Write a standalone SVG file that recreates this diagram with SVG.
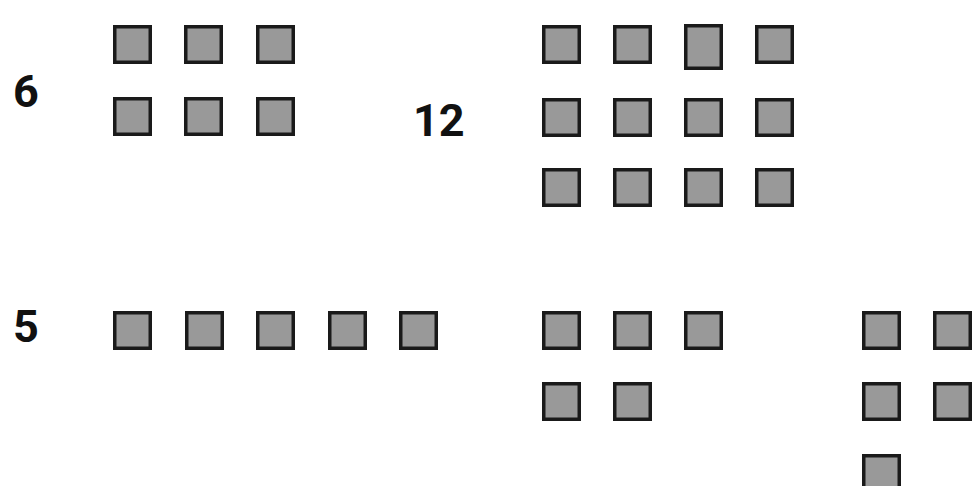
<svg xmlns="http://www.w3.org/2000/svg" width="973" height="486" viewBox="0 0 973 486">
<style>
.sq{fill:#999999;stroke:#1a1a1a;stroke-width:3.5}
.lbl{font-family:Roboto,"Liberation Sans",sans-serif;font-weight:bold;font-size:45px;fill:#111111}
</style>
<defs><rect id="s" class="sq" width="35.5" height="35.5"/></defs>
<rect width="973" height="486" fill="#ffffff"/>
<g id="group-6">
<text class="lbl" x="13" y="107">6</text>
<use href="#s" x="114.75" y="26.75"/><use href="#s" x="185.75" y="26.75"/><use href="#s" x="257.75" y="26.75"/>
<use href="#s" x="114.75" y="98.75"/><use href="#s" x="185.75" y="98.75"/><use href="#s" x="257.75" y="98.75"/>
</g>
<g id="group-12">
<text class="lbl" x="413" y="136">12</text>
<use href="#s" x="543.75" y="26.75"/><use href="#s" x="614.75" y="26.75"/><rect class="sq" x="685.75" y="25.75" width="35.5" height="42.5"/><use href="#s" x="756.75" y="26.75"/>
<use href="#s" x="543.75" y="99.75"/><use href="#s" x="614.75" y="99.75"/><use href="#s" x="685.75" y="99.75"/><use href="#s" x="756.75" y="99.75"/>
<use href="#s" x="543.75" y="169.75"/><use href="#s" x="614.75" y="169.75"/><use href="#s" x="685.75" y="169.75"/><use href="#s" x="756.75" y="169.75"/>
</g>
<g id="group-5">
<text class="lbl" x="13" y="342">5</text>
<use href="#s" x="114.75" y="312.75"/><use href="#s" x="186.75" y="312.75"/><use href="#s" x="257.75" y="312.75"/><use href="#s" x="329.75" y="312.75"/><use href="#s" x="400.75" y="312.75"/>
</g>
<g id="group-5b">
<use href="#s" x="543.75" y="312.75"/><use href="#s" x="614.75" y="312.75"/><use href="#s" x="685.75" y="312.75"/>
<use href="#s" x="543.75" y="383.75"/><use href="#s" x="614.75" y="383.75"/>
</g>
<g id="group-5c">
<use href="#s" x="863.75" y="312.75"/><use href="#s" x="934.75" y="312.75"/>
<use href="#s" x="863.75" y="383.75"/><use href="#s" x="934.75" y="383.75"/>
<use href="#s" x="863.75" y="455.75"/>
</g>
<g id="connectors"/>
</svg>
